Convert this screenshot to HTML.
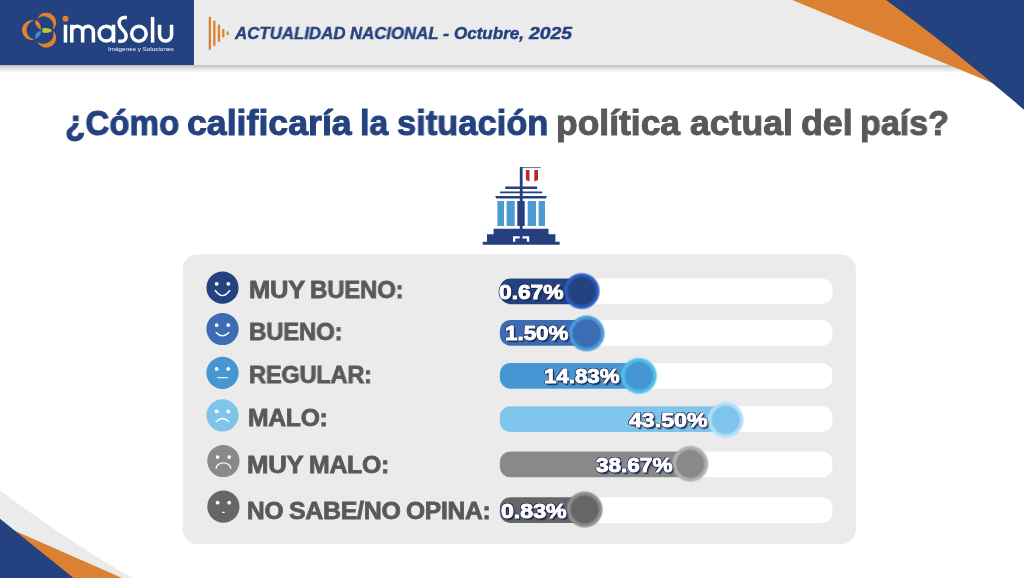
<!DOCTYPE html>
<html lang="es">
<head>
<meta charset="utf-8">
<title>Actualidad Nacional</title>
<style>
*{margin:0;padding:0;box-sizing:border-box}
html,body{width:1024px;height:578px;overflow:hidden;background:#fff;font-family:"Liberation Sans",sans-serif}
.abs{position:absolute}
#stage{position:relative;width:1024px;height:578px;overflow:hidden;background:#fff}
.t{white-space:nowrap;transform-origin:0 0;will-change:transform}
.pct{font-weight:bold;color:#fff;-webkit-text-stroke:1px #fff;
 text-shadow:-.8px -.8px 0 #1b2550,.8px -.8px 0 #1b2550,-.8px .8px 0 #1b2550,.8px .8px 0 #1b2550,0 -1.1px 0 #1b2550,0 1.1px 0 #1b2550,-1.1px 0 0 #1b2550,1.1px 0 0 #1b2550,1.3px 1.7px 1px rgba(27,37,80,.85),2px 2.4px 1.5px rgba(27,37,80,.4)}
</style>
</head>
<body>
<div id="stage">
<div class="abs" style="left:0;top:65px;width:1024px;height:8px;background:linear-gradient(rgba(0,0,0,.26),rgba(0,0,0,.12) 40%,rgba(0,0,0,0))"></div>
<div class="abs" style="left:0;top:0;width:1024px;height:65px;background:#ebebeb"></div>
<div class="abs" style="left:0;top:0;width:194px;height:65px;background:#24427f"></div>
<svg class="abs" style="left:0;top:0" width="1024" height="578" viewBox="0 0 1024 578">
<rect x="182.7" y="254.5" width="673.2" height="289.6" rx="14.5" fill="#ebebeb"/>
<defs><radialGradient id="k0" gradientUnits="userSpaceOnUse" cx="581.7" cy="291.1" r="19.0"><stop offset="0" stop-color="#24427f"/><stop offset="0.679" stop-color="#24427f"/><stop offset="0.811" stop-color="#2b5cc2"/><stop offset="0.874" stop-color="#2b5cc2"/><stop offset="1" stop-color="#2b5cc2" stop-opacity="0"/></radialGradient><radialGradient id="k1" gradientUnits="userSpaceOnUse" cx="586.7" cy="333.4" r="19.0"><stop offset="0" stop-color="#3c6cb4"/><stop offset="0.679" stop-color="#3c6cb4"/><stop offset="0.811" stop-color="#4a9bd9"/><stop offset="0.874" stop-color="#4a9bd9"/><stop offset="1" stop-color="#4a9bd9" stop-opacity="0"/></radialGradient><radialGradient id="k2" gradientUnits="userSpaceOnUse" cx="638.9" cy="375.9" r="19.0"><stop offset="0" stop-color="#4596d2"/><stop offset="0.679" stop-color="#4596d2"/><stop offset="0.811" stop-color="#4fc0e8"/><stop offset="0.874" stop-color="#4fc0e8"/><stop offset="1" stop-color="#4fc0e8" stop-opacity="0"/></radialGradient><radialGradient id="k3" gradientUnits="userSpaceOnUse" cx="725.7" cy="419.9" r="19.0"><stop offset="0" stop-color="#7fc4ea"/><stop offset="0.679" stop-color="#7fc4ea"/><stop offset="0.811" stop-color="#b2dff5"/><stop offset="0.874" stop-color="#b2dff5"/><stop offset="1" stop-color="#b2dff5" stop-opacity="0"/></radialGradient><radialGradient id="k4" gradientUnits="userSpaceOnUse" cx="690.3" cy="463.8" r="19.0"><stop offset="0" stop-color="#898989"/><stop offset="0.679" stop-color="#898989"/><stop offset="0.811" stop-color="#b0b0b0"/><stop offset="0.874" stop-color="#b0b0b0"/><stop offset="1" stop-color="#b0b0b0" stop-opacity="0"/></radialGradient><radialGradient id="k5" gradientUnits="userSpaceOnUse" cx="584.65" cy="509.5" r="19.0"><stop offset="0" stop-color="#666666"/><stop offset="0.679" stop-color="#666666"/><stop offset="0.811" stop-color="#8e8e8e"/><stop offset="0.874" stop-color="#8e8e8e"/><stop offset="1" stop-color="#8e8e8e" stop-opacity="0"/></radialGradient></defs><rect x="499.8" y="278.4" width="332.7" height="25.8" rx="10.5" fill="#fff"/><path d="M581.7 278.4H510.3a10.5 10.5 0 0 0 -10.5 10.5V293.7a10.5 10.5 0 0 0 10.5 10.5H581.7Z" fill="#24427f"/><rect x="499.8" y="319.9" width="332.7" height="25.8" rx="10.5" fill="#fff"/><path d="M586.7 319.9H510.3a10.5 10.5 0 0 0 -10.5 10.5V335.2a10.5 10.5 0 0 0 10.5 10.5H586.7Z" fill="#3c6cb4"/><rect x="499.8" y="362.9" width="332.7" height="25.8" rx="10.5" fill="#fff"/><path d="M638.9 362.9H510.3a10.5 10.5 0 0 0 -10.5 10.5V378.2a10.5 10.5 0 0 0 10.5 10.5H638.9Z" fill="#4596d2"/><rect x="499.8" y="406.2" width="332.7" height="25.8" rx="10.5" fill="#fff"/><path d="M725.7 406.2H510.3a10.5 10.5 0 0 0 -10.5 10.5V421.5a10.5 10.5 0 0 0 10.5 10.5H725.7Z" fill="#7fc4ea"/><rect x="499.8" y="451.5" width="332.7" height="25.8" rx="10.5" fill="#fff"/><path d="M690.3 451.5H510.3a10.5 10.5 0 0 0 -10.5 10.5V466.8a10.5 10.5 0 0 0 10.5 10.5H690.3Z" fill="#898989"/><rect x="499.8" y="497.2" width="332.7" height="25.8" rx="10.5" fill="#fff"/><path d="M584.6 497.2H510.3a10.5 10.5 0 0 0 -10.5 10.5V512.5a10.5 10.5 0 0 0 10.5 10.5H584.6Z" fill="#666666"/><circle cx="581.7" cy="291.1" r="19.0" fill="url(#k0)"/><circle cx="586.7" cy="333.4" r="19.0" fill="url(#k1)"/><circle cx="638.9" cy="375.9" r="19.0" fill="url(#k2)"/><circle cx="725.7" cy="419.9" r="19.0" fill="url(#k3)"/><circle cx="690.3" cy="463.8" r="19.0" fill="url(#k4)"/><circle cx="584.65" cy="509.5" r="19.0" fill="url(#k5)"/>
<polygon points="792.3,0 1024,0 1024,96.3" fill="#dc8132"/>
<path d="M886 0Q948.6 45.5 1024 109.7V0Z" fill="#24427f"/>
<path d="M0 490.5Q65.25 539.35 132.3 578H0Z" fill="#ebebeb"/>
<polygon points="0,524.3 122,578 0,578" fill="#dc8132"/>
<polygon points="0,518.7 73.5,578 0,578" fill="#24427f"/>
<g fill="#dc8132">
<rect x="208.7" y="16.8" width="2.3" height="32.8"/>
<rect x="213.2" y="20.7" width="2.3" height="25"/>
<rect x="217.8" y="24.6" width="2.3" height="17.2"/>
<rect x="222.2" y="29.1" width="2.2" height="8.2"/>
<rect x="226.7" y="31.4" width="2.1" height="3.6"/>
</g>
<path d="M34.05 39.64 A9.8 9.8 0 1 1 34.05 20.56 A9.8 9.8 0 0 0 34.05 39.64Z" fill="#e0832f"/><path d="M37.21 18.79 A9.8 9.8 0 1 1 52.79 29.79 A9.8 9.8 0 0 0 37.21 18.79Z" fill="#e0832f"/><path d="M52.79 30.41 A9.8 9.8 0 1 1 37.21 41.41 A9.8 9.8 0 0 0 52.79 30.41Z" fill="#e0832f"/><path d="M40.9 29.9C38.5 28.5 35 25.5 35.2 21.8C35.3 20.4 36.6 20.2 37.6 21C40 23 41.3 27 40.9 29.9Z" fill="#e0832f"/><path d="M42.2 29C43.5 27.8 47 27.8 49 28.6C50.5 29.2 52.1 30.2 52.1 30.5C52.1 30.8 50.5 31.9 49 32.5C47 33.2 43.5 33.2 42.2 32Z" fill="#b4cb33"/><path d="M40.9 30.9C39 30.8 36.8 32.2 35.9 34.2C35.2 35.8 35 38 35.3 38.8C36.5 38.6 38.8 37 40 35C40.8 33.6 41.2 32 40.9 30.9Z" fill="#3b90d8"/>
<circle cx="65.5" cy="18.7" r="3" fill="#e0832f"/>
<path d="M65.45 24.75V42.6" stroke="#fff" stroke-width="3.5" fill="none" stroke-linejoin="round"/>
<path d="M71.8 24.75V42.6M71.8 31.55a5.425 5.4 0 0 1 10.85 0V42.6M82.65 31.55a5.375 5.4 0 0 1 10.75 0V42.6" stroke="#fff" stroke-width="3.5" fill="none" stroke-linejoin="round"/>
<path d="M113.55 24.75V42.6" stroke="#fff" stroke-width="3.5" fill="none" stroke-linejoin="round"/><ellipse cx="106.3" cy="33.6" rx="7.25" ry="7.45" stroke="#fff" stroke-width="3.5" fill="none" stroke-linejoin="round"/>
<path d="M126.9 17.45H124.4C121.4 17.35 119.05 19.7 119.05 22.9C119.05 26.2 121 27.9 122.6 29.6C124.4 31.6 126.15 33 126.15 36C126.15 39.2 124 41.25 121.4 41.25H118.2" stroke="#fff" stroke-width="3.5" fill="none" stroke-linejoin="round"/>
<ellipse cx="138.9" cy="33.7" rx="7.25" ry="7.55" stroke="#fff" stroke-width="3.5" fill="none" stroke-linejoin="round"/>
<path d="M152.6 16.9V42.6" stroke="#fff" stroke-width="3.5" fill="none" stroke-linejoin="round"/>
<path d="M159.55 24.75V35.05a6 6 0 0 0 12 0V24.75" stroke="#fff" stroke-width="3.5" fill="none" stroke-linejoin="round"/>
<g fill="#263f80">
<rect x="519.8" y="167" width="2.8" height="62"/>
<rect x="522" y="167.1" width="18.8" height="1" fill-opacity=".75"/>
<rect x="505.2" y="186.6" width="32" height="2.3" rx=".6"/>
<rect x="500" y="191.6" width="42.4" height="1.6" rx=".5"/>
<path d="M495.2 195.9H547L545.8 198.4H496.4Z"/>
<rect x="517.3" y="201" width="7.4" height="25" rx=".5"/>
<path d="M493.6 228.7H548.5V234.2H555.4V241.7H559.7V244.7H482.7V241.7H487V234.2H493.6Z"/>
</g>
<g fill="#4a9ad4">
<rect x="497.4" y="201" width="6.6" height="25"/>
<rect x="506.6" y="201" width="8.1" height="25"/>
<rect x="527.7" y="201" width="8.3" height="25"/>
<rect x="538.6" y="201" width="6.4" height="25"/>
</g>
<path d="M525.9 169.9h3.6v11.7l-1.8-.8l-1.8-.9Z M534.3 169.9h3.7v10l-1.85.9l-1.85.8Z" fill="#b92a2a"/>
<path d="M513 236.3h6.7v2.1h-4.4v3.3h-2.3Z M529.2 236.3h-6.7v2.1h4.4v3.3h2.3Z" fill="#fff"/>
<circle cx="222.5" cy="287.7" r="16.1" fill="#24427f"/><circle cx="216.7" cy="283.8" r="1.9" fill="#fff"/><circle cx="228.3" cy="283.8" r="1.9" fill="#fff"/><path d="M215.30 290.50Q222.5 300.70 229.70 290.50" stroke-width="1.4" stroke="#fff" fill="none" stroke-linecap="round"/><circle cx="222.5" cy="329.0" r="16.1" fill="#3c6cb4"/><circle cx="216.7" cy="325.1" r="1.9" fill="#fff"/><circle cx="228.3" cy="325.1" r="1.9" fill="#fff"/><path d="M216.10 332.60Q222.5 339.20 228.90 332.60" stroke-width="1.4" stroke="#fff" fill="none" stroke-linecap="round"/><circle cx="222.5" cy="372.8" r="16.1" fill="#4596d2"/><circle cx="216.7" cy="368.90000000000003" r="1.9" fill="#fff"/><circle cx="228.3" cy="368.90000000000003" r="1.9" fill="#fff"/><path d="M217.50 377.60H227.50" stroke-width="1.2" stroke-opacity=".85" stroke="#fff" fill="none" stroke-linecap="round"/><circle cx="222.5" cy="415.3" r="16.1" fill="#7fc4ea"/><circle cx="216.7" cy="411.40000000000003" r="1.9" fill="#fff"/><circle cx="228.3" cy="411.40000000000003" r="1.9" fill="#fff"/><path d="M216.40 421.50Q222.5 415.50 228.60 421.50" stroke-width="1.4" stroke="#fff" fill="none" stroke-linecap="round"/><circle cx="223.4" cy="461.0" r="16.1" fill="#898989"/><circle cx="217.6" cy="457.1" r="1.9" fill="#fff"/><circle cx="229.20000000000002" cy="457.1" r="1.9" fill="#fff"/><path d="M216.10 468.30A7.3 5.4 0 0 1 230.70 468.30" stroke-width="1.4" stroke="#fff" fill="none" stroke-linecap="round"/><circle cx="223.4" cy="506.6" r="16.1" fill="#666666"/><circle cx="217.6" cy="502.70000000000005" r="1.9" fill="#fff"/><circle cx="229.20000000000002" cy="502.70000000000005" r="1.9" fill="#fff"/><rect x="222.10" y="511.80" width="2.6" height="1.1" rx=".5" fill="#fff"/>
</svg>
<div class="abs t" style="left:234.62px;top:22.81px;font-size:17px;line-height:21px;font-weight:bold;font-style:italic;color:#24427f;transform:scaleX(0.9910);letter-spacing:0px;-webkit-text-stroke:0.45px #24427f;">ACTUALIDAD</div>
<div class="abs t" style="left:349.93px;top:22.81px;font-size:17px;line-height:21px;font-weight:bold;font-style:italic;color:#24427f;transform:scaleX(0.9878);letter-spacing:0px;-webkit-text-stroke:0.45px #24427f;">NACIONAL</div>
<div class="abs t" style="left:443.40px;top:22.81px;font-size:17px;line-height:21px;font-weight:bold;font-style:italic;color:#24427f;transform:scaleX(1.0729);letter-spacing:0px;-webkit-text-stroke:0.45px #24427f;">-</div>
<div class="abs t" style="left:454.22px;top:22.81px;font-size:17px;line-height:21px;font-weight:bold;font-style:italic;color:#24427f;transform:scaleX(1.0011);letter-spacing:0px;-webkit-text-stroke:0.45px #24427f;">Octubre,</div>
<div class="abs t" style="left:528.87px;top:22.81px;font-size:17px;line-height:21px;font-weight:bold;font-style:italic;color:#24427f;transform:scaleX(1.1404);letter-spacing:0px;-webkit-text-stroke:0.45px #24427f;">2025</div>
<div class="abs t" style="left:64.95px;top:101.57px;font-size:35px;line-height:42px;font-weight:bold;color:#24427f;transform:scaleX(0.9478);letter-spacing:0px;-webkit-text-stroke:1.0px #24427f;">¿Cómo</div>
<div class="abs t" style="left:186.78px;top:101.57px;font-size:35px;line-height:42px;font-weight:bold;color:#24427f;transform:scaleX(1.0198);letter-spacing:0px;-webkit-text-stroke:1.0px #24427f;">calificaría</div>
<div class="abs t" style="left:359.59px;top:101.57px;font-size:35px;line-height:42px;font-weight:bold;color:#24427f;transform:scaleX(0.9661);letter-spacing:0px;-webkit-text-stroke:1.0px #24427f;">la</div>
<div class="abs t" style="left:397.42px;top:101.57px;font-size:35px;line-height:42px;font-weight:bold;color:#24427f;transform:scaleX(0.9851);letter-spacing:0px;-webkit-text-stroke:1.0px #24427f;">situación</div>
<div class="abs t" style="left:556.38px;top:101.57px;font-size:35px;line-height:42px;font-weight:bold;color:#595959;transform:scaleX(1.0128);letter-spacing:0px;-webkit-text-stroke:1.0px #595959;">política</div>
<div class="abs t" style="left:689.64px;top:101.57px;font-size:35px;line-height:42px;font-weight:bold;color:#595959;transform:scaleX(1.0168);letter-spacing:0px;-webkit-text-stroke:1.0px #595959;">actual</div>
<div class="abs t" style="left:800.58px;top:101.57px;font-size:35px;line-height:42px;font-weight:bold;color:#595959;transform:scaleX(1.0231);letter-spacing:0px;-webkit-text-stroke:1.0px #595959;">del</div>
<div class="abs t" style="left:859.77px;top:101.57px;font-size:35px;line-height:42px;font-weight:bold;color:#595959;transform:scaleX(0.9733);letter-spacing:0px;-webkit-text-stroke:1.0px #595959;">país?</div>
<div class="abs t" style="left:248.68px;top:275.41px;font-size:24.5px;line-height:30px;font-weight:bold;color:#595959;transform:scaleX(1.0433);letter-spacing:-0.3px;-webkit-text-stroke:0.8px #595959;">MUY</div>
<div class="abs t" style="left:310.33px;top:275.41px;font-size:24.5px;line-height:30px;font-weight:bold;color:#595959;transform:scaleX(0.9838);letter-spacing:-0.3px;-webkit-text-stroke:0.8px #595959;">BUENO:</div>
<div class="abs t" style="left:248.53px;top:317.01px;font-size:24.5px;line-height:30px;font-weight:bold;color:#595959;transform:scaleX(0.9827);letter-spacing:-0.3px;-webkit-text-stroke:0.8px #595959;">BUENO:</div>
<div class="abs t" style="left:248.65px;top:360.41px;font-size:24.5px;line-height:30px;font-weight:bold;color:#595959;transform:scaleX(0.9665);letter-spacing:-0.3px;-webkit-text-stroke:0.8px #595959;">REGULAR:</div>
<div class="abs t" style="left:248.49px;top:403.41px;font-size:24.5px;line-height:30px;font-weight:bold;color:#595959;transform:scaleX(1.0090);letter-spacing:-0.3px;-webkit-text-stroke:0.8px #595959;">MALO:</div>
<div class="abs t" style="left:246.62px;top:450.41px;font-size:24.5px;line-height:30px;font-weight:bold;color:#595959;transform:scaleX(1.0520);letter-spacing:-0.3px;-webkit-text-stroke:0.8px #595959;">MUY</div>
<div class="abs t" style="left:308.58px;top:450.41px;font-size:24.5px;line-height:30px;font-weight:bold;color:#595959;transform:scaleX(1.0143);letter-spacing:-0.3px;-webkit-text-stroke:0.8px #595959;">MALO:</div>
<div class="abs t" style="left:247.07px;top:495.91px;font-size:24.5px;line-height:30px;font-weight:bold;color:#595959;transform:scaleX(0.9869);letter-spacing:-0.3px;-webkit-text-stroke:0.8px #595959;">NO</div>
<div class="abs t" style="left:288.94px;top:495.91px;font-size:24.5px;line-height:30px;font-weight:bold;color:#595959;transform:scaleX(1.0183);letter-spacing:-0.3px;-webkit-text-stroke:0.8px #595959;">SABE/NO</div>
<div class="abs t" style="left:406.30px;top:495.91px;font-size:24.5px;line-height:30px;font-weight:bold;color:#595959;transform:scaleX(1.0038);letter-spacing:-0.3px;-webkit-text-stroke:0.8px #595959;">OPINA:</div>
<div class="abs t" style="left:107.66px;top:45.25px;font-size:6.2px;line-height:8px;font-weight:normal;color:#ccd3e6;transform:scaleX(1.0260);letter-spacing:0px;-webkit-text-stroke:0.15px #ccd3e6;">Imágenes y Soluciones</div>
<div class="abs t pct" style="left:499.13px;top:278.72px;font-size:21px;line-height:26px;transform:scaleX(1.0829)">0.67%</div>
<div class="abs t pct" style="left:504.92px;top:320.22px;font-size:21px;line-height:26px;transform:scaleX(1.0645)">1.50%</div>
<div class="abs t pct" style="left:543.92px;top:363.22px;font-size:21px;line-height:26px;transform:scaleX(1.0612)">14.83%</div>
<div class="abs t pct" style="left:629.17px;top:406.52px;font-size:21px;line-height:26px;transform:scaleX(1.1015)">43.50%</div>
<div class="abs t pct" style="left:595.77px;top:451.82px;font-size:21px;line-height:26px;transform:scaleX(1.0732)">38.67%</div>
<div class="abs t pct" style="left:500.72px;top:497.52px;font-size:21px;line-height:26px;transform:scaleX(1.1017)">0.83%</div>
</div>
</body>
</html>
